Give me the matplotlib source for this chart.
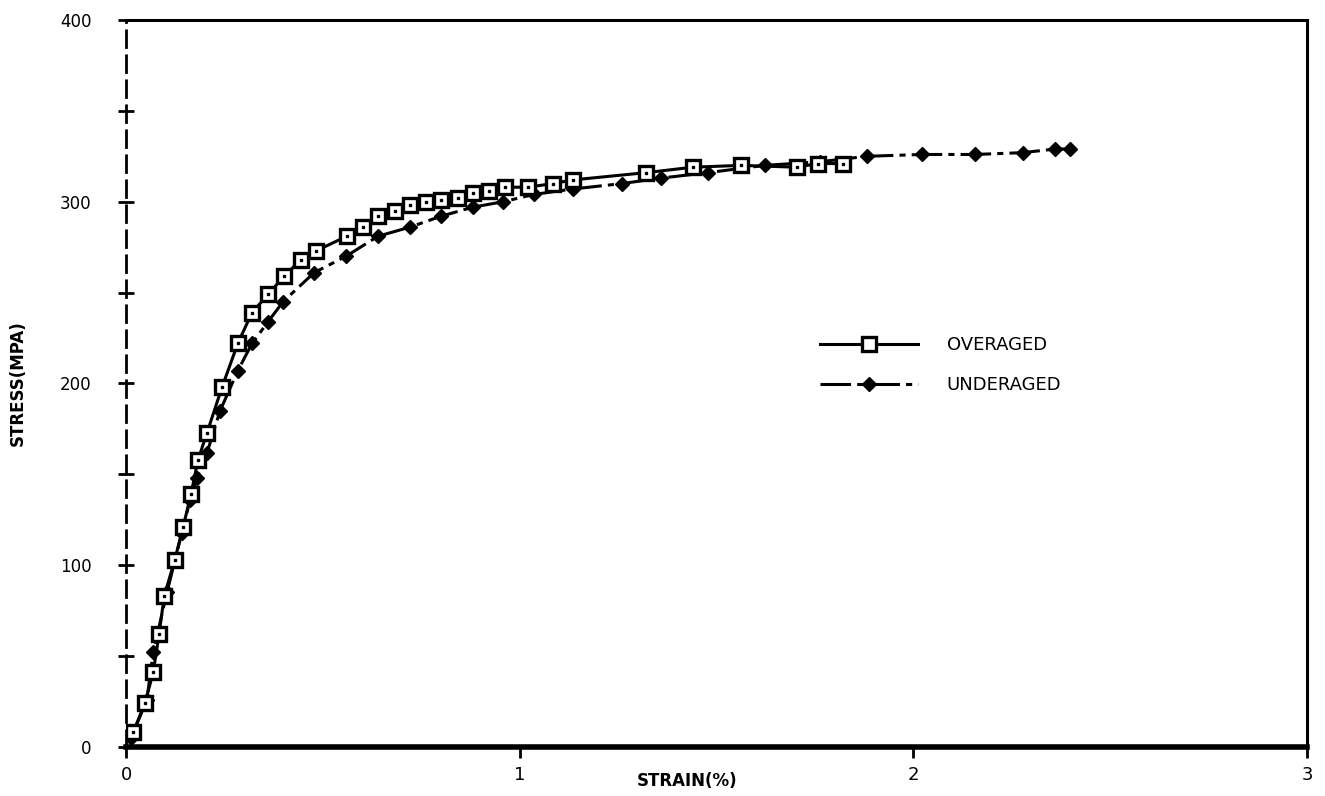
import matplotlib
matplotlib.use("Agg")
import matplotlib.pyplot as plt

# Curva tension-deformacion: sobre-envejecido vs sub-envejecido
strain_over = [0.018, 0.048, 0.069, 0.084, 0.097, 0.124, 0.145, 0.165, 0.183, 0.206,
               0.244, 0.284, 0.320, 0.361, 0.401, 0.444, 0.483, 0.561, 0.602, 0.640,
               0.683, 0.721, 0.762, 0.800, 0.843, 0.881, 0.922, 0.963, 1.021, 1.085,
               1.135, 1.321, 1.440, 1.562, 1.704, 1.758, 1.821]
stress_over = [8, 24, 41, 62, 83, 103, 121, 139, 158, 173,
               198, 222, 239, 249, 259, 268, 273, 281, 286, 292,
               295, 298, 300, 301, 302, 305, 306, 308, 308, 310,
               312, 316, 319, 320, 319, 321, 321]

strain_under = [0.013, 0.053, 0.069, 0.104, 0.142, 0.163, 0.180, 0.206, 0.239, 0.284,
                0.320, 0.361, 0.399, 0.478, 0.559, 0.640, 0.721, 0.800, 0.881, 0.958,
                1.036, 1.135, 1.260, 1.359, 1.478, 1.623, 1.763, 1.882, 2.022, 2.156,
                2.278, 2.360, 2.398]
stress_under = [5, 26, 52, 85, 118, 136, 148, 162, 185, 207,
                222, 234, 245, 261, 270, 281, 286, 292, 297, 300,
                304, 307, 310, 313, 316, 320, 322, 325, 326, 326,
                327, 329, 329]

x_ticks = [0, 1, 2, 3]
y_ticks = [0, 100, 200, 300, 400]

fig = plt.figure(figsize=(13.25, 7.96), dpi=100)
ax = fig.add_axes([0.0951, 0.0616, 0.8913, 0.9133])

ax.plot(strain_over, stress_over, color='black', lw=2.2, marker='s', ms=9.5,
        mfc='white', mec='black', mew=2.4, label='OVERAGED', zorder=3)
ax.plot(strain_over, stress_over, ls='none', marker='s', ms=1.8, color='black', zorder=4)
ax.plot(strain_under, stress_under, color='black', lw=2.2, ls=(0, (10, 2, 2, 2)),
        marker='D', ms=7, mfc='black', mec='black', label='UNDERAGED', zorder=2)

ax.set_xlim(0, 3)
ax.set_ylim(0, 400)
ax.set_xticks(x_ticks)
ax.set_yticks(y_ticks)
ax.set_yticks([50, 150, 250, 350], minor=True)
ax.tick_params(axis='y', which='both', direction='inout', length=12, width=2,
               labelsize=12, pad=19)
ax.tick_params(axis='x', which='major', direction='out', length=8, width=2,
               labelsize=13, pad=6)

# Marco: izquierda y derecha discontinuas, abajo gruesa
ax.spines['left'].set_linestyle((0, (6, 3)))
ax.spines['left'].set_linewidth(2)
ax.spines['right'].set_linestyle((0, (10, 1)))
ax.spines['right'].set_linewidth(2.2)
ax.spines['top'].set_linewidth(2.2)
ax.spines['bottom'].set_linewidth(4)

ax.set_ylabel('STRESS(MPA)', fontsize=12, fontweight='bold', labelpad=24)
ax.set_xlabel('STRAIN(%)', fontsize=12, fontweight='bold')
ax.xaxis.set_label_coords(0.475, -0.035)

ax.legend(loc='upper left', bbox_to_anchor=(0.588, 0.565), frameon=False,
          fontsize=13, handlelength=5.4, handletextpad=1.6, labelspacing=1.2,
          borderpad=0, borderaxespad=0)

plt.savefig('out.png', dpi=100)
